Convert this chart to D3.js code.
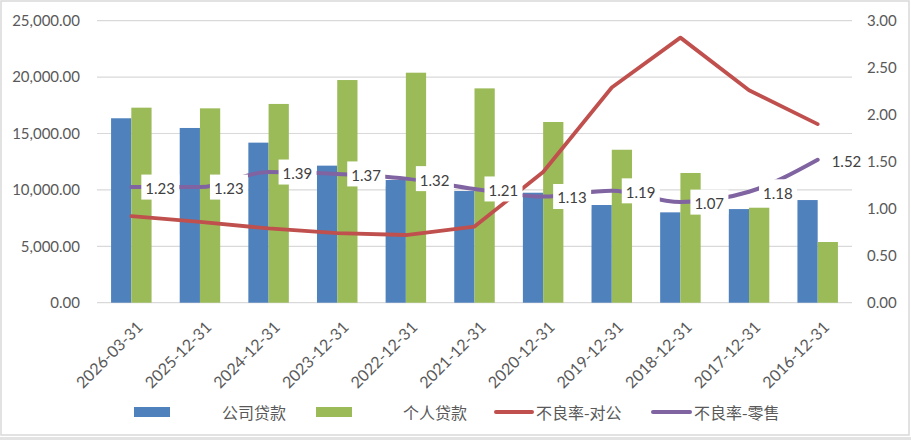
<!DOCTYPE html>
<html><head><meta charset="utf-8">
<script src="https://cdn.jsdelivr.net/npm/d3@7/dist/d3.min.js"></script>
<style>body{margin:0;background:#fff}svg{display:block}</style>
</head><body>
<svg id="c" width="911" height="440"></svg>
<script>
const categories = ["2026-03-31","2025-12-31","2024-12-31","2023-12-31","2022-12-31","2021-12-31","2020-12-31","2019-12-31","2018-12-31","2017-12-31","2016-12-31"];
const corpLoans = [16350,15490,14190,12150,10880,9900,9750,8660,8010,8300,9100];
const retailLoans = [17290,17230,17620,19740,20390,19000,16020,13560,11500,8420,5380];
const nplCorp = [0.92,0.86,0.79,0.74,0.72,0.81,1.39,2.29,2.82,2.26,1.90];
const nplRetail = [1.23,1.23,1.39,1.37,1.32,1.21,1.13,1.19,1.07,1.18,1.52];
const leftTicks = [0,5000,10000,15000,20000,25000];
const rightTicks = [0,0.5,1,1.5,2,2.5,3];
const seriesNames = ["公司贷款","个人贷款","不良率-对公","不良率-零售"];
const colors = {blue:"#4f81bd", green:"#9bbb59", red:"#c0504d", purple:"#8064a2"};

const svg = d3.select("#c");
const W=911,H=440;
const m = {l:97, r:852, t:20.7, b:302.7};
const font = "Lato, 'Open Sans', sans-serif";
const cjk = "'Noto Sans CJK SC', sans-serif";

// frame
svg.append("rect").attr("x",1).attr("y",1).attr("width",W-3).attr("height",H-6)
  .attr("fill","#fff").attr("stroke","#d9d9d9").attr("stroke-width",1.5);
svg.append("rect").attr("x",0).attr("y",H-3).attr("width",W).attr("height",3).attr("fill","#e3e3e3");

const x = d3.scaleBand().domain(categories).range([m.l,m.r]).paddingInner(0.41).paddingOuter(0.205);
const x1 = d3.scaleBand().domain([0,1]).range([0,x.bandwidth()]);
const yL = d3.scaleLinear().domain([0,25000]).range([m.b,m.t]);
const yR = d3.scaleLinear().domain([0,3]).range([m.b,m.t]);
const cx = c => x(c)+x.bandwidth()/2;

// gridlines
svg.append("g").selectAll("line").data(leftTicks).join("line")
  .attr("x1",m.l).attr("x2",m.r).attr("y1",d=>yL(d)).attr("y2",d=>yL(d))
  .attr("stroke","#d9d9d9").attr("stroke-width",1.2);

// left axis
const axL = svg.append("g").attr("transform",`translate(${m.l},0)`)
  .call(d3.axisLeft(yL).tickValues(leftTicks).tickFormat(d3.format(",.2f")).tickSize(0).tickPadding(17));
axL.select(".domain").remove();
axL.selectAll("text").attr("font-family",font).attr("font-size",15).attr("fill","#595959");

// right axis
const axR = svg.append("g").attr("transform",`translate(${m.r},0)`)
  .call(d3.axisRight(yR).tickValues(rightTicks).tickFormat(d3.format(".2f")).tickSize(0).tickPadding(15));
axR.select(".domain").remove();
axR.selectAll("text").attr("font-family",font).attr("font-size",15).attr("fill","#595959");

// bars
const gb = svg.append("g");
gb.selectAll(".b").data(categories).join("rect")
  .attr("x",c=>x(c)+x1(0)).attr("width",x1.bandwidth())
  .attr("y",(c,i)=>yL(corpLoans[i])).attr("height",(c,i)=>yL(0)-yL(corpLoans[i]))
  .attr("fill",colors.blue);
gb.selectAll(".g").data(categories).join("rect")
  .attr("x",c=>x(c)+x1(1)).attr("width",x1.bandwidth())
  .attr("y",(c,i)=>yL(retailLoans[i])).attr("height",(c,i)=>yL(0)-yL(retailLoans[i]))
  .attr("fill",colors.green);

// lines
const lineR = d3.line().x((d,i)=>cx(categories[i])).y(d=>yR(d));
svg.append("path").attr("d",lineR(nplCorp)).attr("fill","none")
  .attr("stroke",colors.red).attr("stroke-width",3.8).attr("stroke-linejoin","round").attr("stroke-linecap","round");
const lineP = d3.line().x((d,i)=>cx(categories[i])).y(d=>yR(d)).curve(d3.curveMonotoneX);
svg.append("path").attr("d",lineP(nplRetail)).attr("fill","none")
  .attr("stroke",colors.purple).attr("stroke-width",4).attr("stroke-linecap","round");

// data labels
const gl = svg.append("g");
nplRetail.forEach((v,i)=>{
  const px = cx(categories[i]), py = yR(v);
  gl.append("rect").attr("x",px+10).attr("y",py-12.5).attr("width",38).attr("height",25).attr("fill","#fff");
  gl.append("text").attr("x",px+14).attr("y",py+1).attr("dominant-baseline","central")
    .attr("font-family",font).attr("font-size",15).attr("fill","#404040").text(d3.format(".2f")(v));
});

// x labels
svg.append("g").selectAll("text").data(categories).join("text")
  .attr("transform",c=>`translate(${cx(c)+8},${m.b+21}) rotate(-45)`)
  .attr("text-anchor","end").attr("dominant-baseline","central")
  .attr("font-family",font).attr("font-size",16).attr("fill","#595959").text(c=>c);

// legend
const lg = svg.append("g");
const ly = 412;
lg.append("rect").attr("x",134).attr("y",ly-5).attr("width",36).attr("height",10).attr("fill",colors.blue);
lg.append("text").attr("x",222).attr("y",ly).attr("dominant-baseline","central").attr("font-family",cjk).attr("font-size",16).attr("fill","#595959").text(seriesNames[0]);
lg.append("rect").attr("x",316).attr("y",ly-5).attr("width",36).attr("height",10).attr("fill",colors.green);
lg.append("text").attr("x",403).attr("y",ly).attr("dominant-baseline","central").attr("font-family",cjk).attr("font-size",16).attr("fill","#595959").text(seriesNames[1]);
lg.append("line").attr("x1",496).attr("x2",532).attr("y1",ly).attr("y2",ly).attr("stroke",colors.red).attr("stroke-width",4).attr("stroke-linecap","round");
lg.append("text").attr("x",536).attr("y",ly).attr("dominant-baseline","central").attr("font-family",cjk).attr("font-size",16).attr("fill","#595959").text(seriesNames[2]);
lg.append("line").attr("x1",653).attr("x2",690).attr("y1",ly).attr("y2",ly).attr("stroke",colors.purple).attr("stroke-width",4).attr("stroke-linecap","round");
lg.append("text").attr("x",694).attr("y",ly).attr("dominant-baseline","central").attr("font-family",cjk).attr("font-size",16).attr("fill","#595959").text(seriesNames[3]);
</script>
</body></html>
